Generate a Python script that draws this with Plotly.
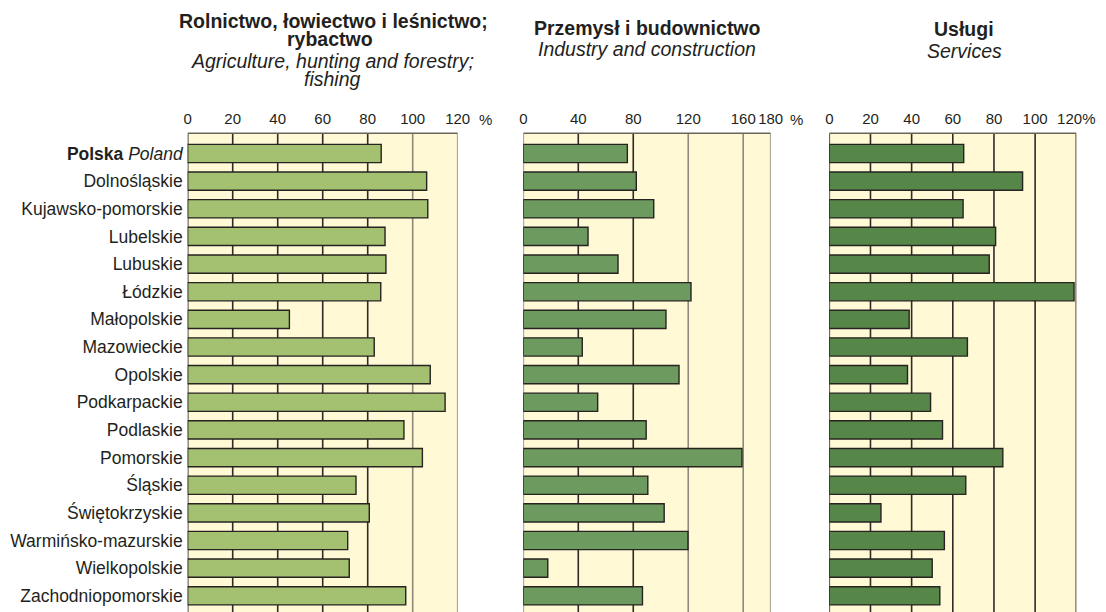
import plotly.graph_objects as go

# Regions (top to bottom)
regions = [
    "<b>Polska</b> <i>Poland</i>", "Dolnośląskie", "Kujawsko-pomorskie", "Lubelskie",
    "Lubuskie", "Łódzkie", "Małopolskie", "Mazowieckie", "Opolskie", "Podkarpackie",
    "Podlaskie", "Pomorskie", "Śląskie", "Świętokrzyskie", "Warmińsko-mazurskie",
    "Wielkopolskie", "Zachodniopomorskie",
]

# Values in %, by sector
agriculture = [86.0, 106.2, 106.7, 87.7, 88.1, 85.8, 45.2, 82.9, 107.8, 114.4,
               96.1, 104.3, 74.8, 80.7, 71.1, 71.8, 96.9]
industry = [75.7, 82.2, 94.9, 47.1, 68.9, 122.0, 103.8, 42.9, 113.3, 54.1,
            89.4, 159.1, 90.6, 102.5, 119.8, 17.8, 86.7]
services = [65.3, 93.9, 65.0, 80.8, 77.7, 118.9, 38.8, 67.1, 38.0, 49.2,
            55.0, 84.3, 66.3, 25.1, 55.9, 50.0, 53.7]

agri_ticks = [0, 20, 40, 60, 80, 100, 120]
ind_ticks = [0, 40, 80, 120, 160, 180]
serv_ticks = [0, 20, 40, 60, 80, 100, 120]

W, H = 1106, 612
FONT = "Liberation Sans, Arial, Helvetica, sans-serif"
TEXT = "#231f20"
DARK = "#2f2b27"
GREY = "#8e897a"
BG = "#fff9d6"

ypos = list(range(len(regions)))

fig = go.Figure()

panels = [
    # values, colour, axis suffix, ticks, x pixel span, grid colours,
    # pixel offset of a separate "%" label (None: appended to last tick)
    (agriculture, "#a3c170", "", agri_ticks, (187.7, 457.7),
     [DARK, DARK, DARK, DARK, DARK, GREY, GREY], 19),
    (industry, "#6d9a5f", "2", ind_ticks, (523.3, 770.7),
     [GREY, DARK, DARK, GREY, GREY, GREY], 17),
    (services, "#568749", "3", serv_ticks, (829.3, 1076.3),
     [DARK] * 7, None),
]

plot_top_px = 133.3
ydom = [0, 1 - plot_top_px / H]
yrange = [16.586, -0.73]
tick_y_px = 119.5

shapes = []
annotations = []
for vals, col, sfx, ticks, (x0, x1), gcols, pct_shift in panels:
    fig.add_trace(go.Bar(
        x=vals, y=ypos, orientation="h", width=0.66,
        marker=dict(color=col, line=dict(color="#262321", width=1.4)),
        xaxis="x" + sfx, yaxis="y" + sfx, showlegend=False,
        hoverinfo="x+y",
    ))
    ticktext = [str(t) for t in ticks]
    if pct_shift is not None:
        annotations.append(dict(
            text="%", x=ticks[-1], xref="x" + sfx, xanchor="left",
            xshift=pct_shift,
            y=1 - tick_y_px / H, yref="paper", yanchor="middle",
            showarrow=False, font=dict(family=FONT, size=15, color=TEXT),
        ))
    else:
        ticktext[-1] = ticktext[-1] + "%"
    xa = dict(
        domain=[x0 / W, x1 / W], range=[0, ticks[-1]], side="top",
        tickvals=ticks, ticktext=ticktext, ticks="", tickangle=0,
        tickfont=dict(family=FONT, size=15, color=TEXT), ticklabelstandoff=5,
        showgrid=False, zeroline=False, showline=False,
        anchor="y" + sfx, fixedrange=True, automargin=False,
    )
    ya = dict(
        domain=ydom, range=yrange, tickvals=ypos, ticktext=regions,
        showticklabels=(sfx == ""), ticks="", ticklabelstandoff=4,
        tickfont=dict(family=FONT, size=17.5, color=TEXT),
        showgrid=False, zeroline=False, showline=False,
        anchor="x" + sfx, fixedrange=True, automargin=False,
    )
    fig.update_layout(**{"xaxis" + sfx: xa, "yaxis" + sfx: ya})
    xref = "x" + sfx
    yref = ("y" + sfx) + " domain"
    for t, gc in zip(ticks, gcols):
        shapes.append(dict(type="line", xref=xref, yref=yref, x0=t, x1=t,
                           y0=0, y1=1, layer="below",
                           line=dict(color=gc, width=1.6)))
    shapes.append(dict(type="line", xref=xref, yref=yref, x0=0, x1=ticks[-1],
                       y0=1, y1=1, layer="below",
                       line=dict(color="#6b665a", width=1.4)))

# Panel headings: (text, x centre px, y centre px, bold)
headings = [
    ("Rolnictwo, łowiectwo i leśnictwo;", 333, 21, True),
    ("rybactwo", 330, 39, True),
    ("Agriculture, hunting and forestry;", 332, 61, False),
    ("fishing", 332, 79, False),
    ("Przemysł i budownictwo", 647.5, 28, True),
    ("Industry and construction", 647, 49, False),
    ("Usługi", 963.5, 29, True),
    ("Services", 964, 51, False),
]
for txt, xc, yc, bold in headings:
    annotations.append(dict(
        text=("<b>%s</b>" % txt) if bold else ("<i>%s</i>" % txt),
        x=xc / W, y=1 - yc / H, xref="paper", yref="paper",
        xanchor="center", yanchor="middle", showarrow=False,
        font=dict(family=FONT, size=19.5, color=TEXT),
    ))

fig.update_layout(
    width=W, height=H,
    margin=dict(l=0, r=0, t=0, b=0, autoexpand=False),
    paper_bgcolor="white", plot_bgcolor=BG,
    bargap=0.34,
    shapes=shapes, annotations=annotations,
    font=dict(family=FONT, color=TEXT),
)

fig.write_html("out.html", config={"displayModeBar": False})
